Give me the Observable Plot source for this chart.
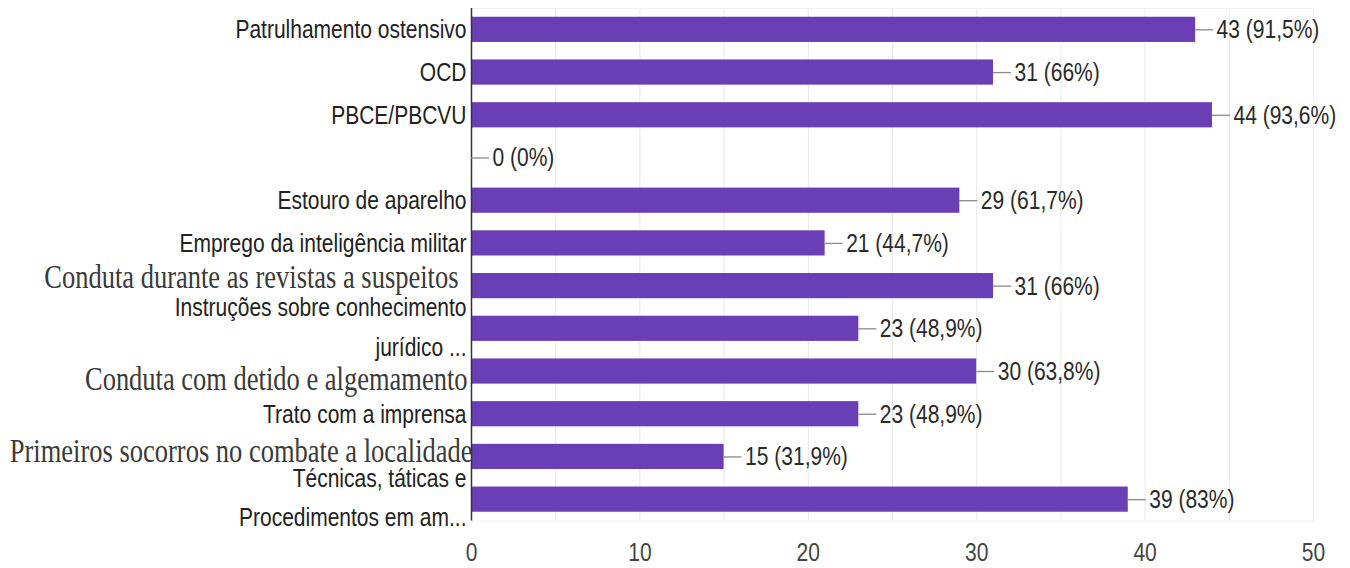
<!DOCTYPE html>
<html>
<head>
<meta charset="utf-8">
<script src="https://cdn.jsdelivr.net/npm/d3@7"></script>
<script src="https://cdn.jsdelivr.net/npm/@observablehq/plot@0.6"></script>
<style>
  html, body { margin: 0; padding: 0; background: #fff; }
  #chart { width: 1350px; height: 568px; }
</style>
</head>
<body>
<div id="chart"></div>
<script>
// Training topics and how many respondents selected each one (n = 47)
const categories = [
  "Patrulhamento ostensivo",
  "OCD",
  "PBCE/PBCVU",
  "",
  "Estouro de aparelho",
  "Emprego da inteligência militar",
  "Conduta durante as revistas a suspeitos",
  "Instruções sobre conhecimento\njurídico ...",
  "Conduta com detido e algemamento",
  "Trato com a imprensa",
  "Primeiros socorros no combate a localidade",
  "Técnicas, táticas e\nProcedimentos em am..."
];
const counts = [43, 31, 44, 0, 29, 21, 31, 23, 30, 23, 15, 39];
const percents = ["91,5%", "66%", "93,6%", "0%", "61,7%", "44,7%", "66%", "48,9%", "63,8%", "48,9%", "31,9%", "83%"];
const xTicks = [0, 10, 20, 30, 40, 50];

const rows = categories.map((label, i) => ({label, count: counts[i], pct: percents[i]}));

// A few labels were typed in a serif face, each nudged a little
const serifLabels = new Map([
  ["Conduta durante as revistas a suspeitos", {dx: -13, dy: -9}],
  ["Conduta com detido e algemamento", {dx: -4, dy: 8}],
  ["Primeiros socorros no combate a localidade", {dx: 1, dy: -6}]
]);
const isSerif = d => serifLabels.has(d.label);
const isWrapped = d => d.label.includes("\n");
const sansSingle = rows.filter(d => d.label !== "" && !isSerif(d) && !isWrapped(d));
const sansWrapped = rows.filter(isWrapped);
const serifRows = rows.filter(isSerif);

const SANS = "'Liberation Sans', Arial, sans-serif";
const SERIF = "'Liberation Serif', 'Times New Roman', serif";
const STRETCH = 1.25;

const marks = [
  Plot.gridX(d3.range(0, 51, 5), {stroke: "#e8e8e8", strokeOpacity: 1}),
  Plot.frame({stroke: "#f0f0f0"}),
  Plot.barX(rows, {x: "count", y: "label", fill: "#6a3fb5"}),
  Plot.ruleX([0], {stroke: "#333", strokeWidth: 1.5}),
  Plot.ruleY(rows, {y: "label", x1: "count", x2: d => d.count + 1.07, stroke: "#8a8a8a", strokeWidth: 1.3}),
  Plot.text(rows, {
    x: "count", y: "label", text: d => `${d.count} (${d.pct})`,
    textAnchor: "start", dx: 21, fill: "#2a2a2a",
    fontFamily: SANS, fontSize: 21, fontWeight: d => d.count === 0 ? "bold" : "normal"
  }),
  Plot.text(sansSingle, {
    x: 0, y: "label", text: "label", textAnchor: "end", dx: -5,
    fill: "#222", fontFamily: SANS, fontSize: 21
  }),
  Plot.text(sansWrapped, {
    x: 0, y: "label", text: "label", textAnchor: "end", dx: -5, dy: -5.5,
    fill: "#222", fontFamily: SANS, fontSize: 21, lineHeight: 1.5
  }),
  ...serifRows.map(d => Plot.text([d], {
    x: 0, y: "label", text: "label", textAnchor: "end",
    dx: serifLabels.get(d.label).dx, dy: serifLabels.get(d.label).dy,
    fill: "#3a3a3a", fontFamily: SERIF, fontSize: 26.5
  })),
  Plot.axisX({ticks: xTicks, tickSize: 0, tickPadding: 21, fontSize: 21, fontFamily: SANS, color: "#444", label: null})
];

const chart = Plot.plot({
  width: 1350,
  height: 568,
  marginLeft: 471,
  marginRight: 37,
  marginTop: 8,
  marginBottom: 47.5,
  x: {domain: [0, 50]},
  y: {domain: categories, paddingInner: 0.41, paddingOuter: 0.205, round: false, axis: null},
  style: {background: "#fff", overflow: "visible"},
  marks
});

// Labels are drawn slightly tall and narrow
d3.select(chart).selectAll("text").each(function () {
  const t = this.getAttribute("transform");
  if (t && t.includes("translate")) {
    this.setAttribute("transform", `${t} scale(1,${STRETCH})`);
  }
});

document.getElementById("chart").appendChild(chart);
</script>
</body>
</html>
